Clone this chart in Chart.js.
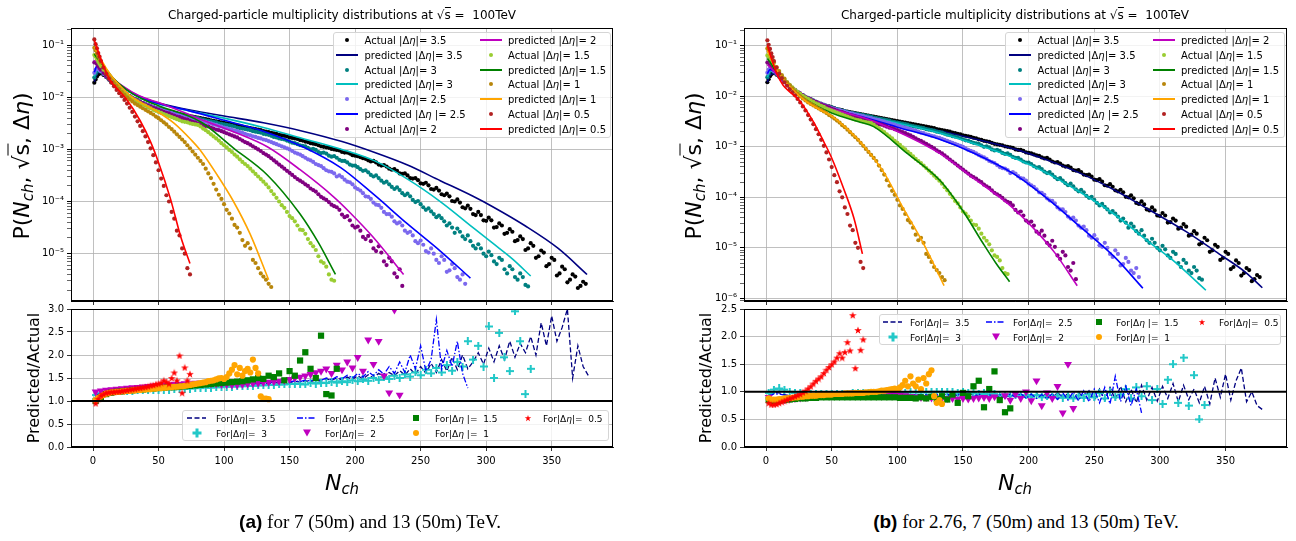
<!DOCTYPE html>
<html>
<head>
<meta charset="utf-8">
<title>Charged-particle multiplicity distributions</title>
<script src="https://cdn.jsdelivr.net/npm/chart.js@4.4.1/dist/chart.umd.min.js"></script>
<style>
  html, body { margin: 0; padding: 0; background: #fff; }
  body { width: 1296px; height: 541px; position: relative; overflow: hidden; font-family: "DejaVu Sans", sans-serif; color: #000; }
  canvas { position: absolute; }
  .txt { position: absolute; white-space: pre; transform: translate(-50%, -50%); }
  .rot { transform: translate(-50%, -50%) rotate(-90deg); }
  .title { font-size: 12px; }
  .ylab { font-size: 22px; }
  .ylab2 { font-size: 16px; }
  .xlab { font-size: 22px; }
  sub { font-size: 0.68em; vertical-align: -0.3em; line-height: 0; }
  .ov { border-top: 1px solid #000; }
  .cap { font-family: "Liberation Serif", serif; font-size: 19px; }
  .cap b { font-family: "Liberation Sans", sans-serif; }
  .legend { position: absolute; background: rgba(255,255,255,0.8); border: 1px solid #d5d5d5; border-radius: 3px; box-sizing: border-box; }
  .item { position: absolute; white-space: pre; transform: translateY(-50%); line-height: 1; }
  .hnd { position: absolute; transform: translate(-50%, -50%); }
</style>
</head>
<body>
<canvas id="topA" width="648" height="310" style="left:0;top:0"></canvas>
<canvas id="botA" width="648" height="170" style="left:0;top:300px"></canvas>
<canvas id="topB" width="648" height="310" style="left:648px;top:0"></canvas>
<canvas id="botB" width="648" height="170" style="left:648px;top:300px"></canvas>

<div class="txt title" style="left:342px;top:15px">Charged-particle multiplicity distributions at √<span class="ov">s</span> =  100TeV</div>
<div class="txt title" style="left:1015px;top:15px">Charged-particle multiplicity distributions at √<span class="ov">s</span> =  100TeV</div>
<div class="txt rot ylab" style="left:21px;top:166px">P(<i>N</i><sub><i>ch</i></sub>, √<span class="ov">s</span>, Δ<i>η</i>)</div>
<div class="txt rot ylab" style="left:693px;top:166px">P(<i>N</i><sub><i>ch</i></sub>, √<span class="ov">s</span>, Δ<i>η</i>)</div>
<div class="txt rot ylab2" style="left:33px;top:378px">Predicted/Actual</div>
<div class="txt rot ylab2" style="left:705px;top:378px">Predicted/Actual</div>
<div class="txt xlab" style="left:342px;top:482px"><i>N</i><sub><i>ch</i></sub></div>
<div class="txt xlab" style="left:1015px;top:482px"><i>N</i><sub><i>ch</i></sub></div>
<div class="txt cap" style="left:370px;top:522px"><b>(a)</b> for 7 (50m) and 13 (50m) TeV.</div>
<div class="txt cap" style="left:1026px;top:522px"><b>(b)</b> for 2.76, 7 (50m) and 13 (50m) TeV.</div>

<script>
// |Δη| windows, in the order they are plotted
const etaLabels = ['3.5', '3', '2.5', '2', '1.5', '1', '0.5'];
const xTicks = [0, 50, 100, 150, 200, 250, 300, 350];
const decades = [1e-7, 1e-6, 1e-5, 1e-4, 1e-3, 1e-2, 1e-1];
const ratioTicksA = [0, 0.5, 1, 1.5, 2, 2.5, 3];
const ratioTicksB = [0, 0.5, 1, 1.5, 2, 2.5];

// N_ch grid of the measured points
const nTop = [1,2,3,4,5,6,
  8,10,12,14,16,18,20,22,24,26,28,30,32,34,36,38,40,42,44,46,48,50,52,54,56,58,60,62,64,66,68,70,72,74,76,78,80,
  82,84,86,88,90,92,94,96,98,100,102,104,106,108,110,112,114,116,118,120,122,124,126,128,130,132,134,136,138,140,142,144,146,148,150,
  152,154,156,158,160,162,164,166,168,170,172,174,176,178,180,182,184,186,188,190,192,194,196,198,200,202,204,206,208,210,212,214,216,218,220,
  222,224,226,228,230,232,234,236,238,240,242,244,246,248,250,252,254,256,258,260,262,264,266,268,270,272,274,276,278,280,282,284,286,288,290,
  292,294,296,298,300,302,304,306,308,310,312,314,316,318,320,322,324,326,328,330,332,334,336,338,340,342,344,346,348,350,352,354,356,358,360,
  362,364,366,368,370,372,374,376];

const actual35 = [-1.72,-1.66,-1.6,-1.56,-1.54,-1.54,
  -1.57,-1.61,-1.66,-1.71,-1.75,-1.8,-1.84,-1.88,-1.92,-1.95,-1.98,-2.01,-2.04,-2.06,-2.09,-2.11,-2.13,-2.15,-2.17,-2.19,-2.2,-2.22,-2.23,-2.25,-2.26,-2.27,-2.29,-2.3,-2.31,-2.32,-2.33,-2.34,-2.35,-2.36,-2.37,-2.38,-2.39,
  -2.4,-2.41,-2.42,-2.43,-2.44,-2.45,-2.46,-2.47,-2.48,-2.49,-2.5,-2.51,-2.52,-2.53,-2.54,-2.55,-2.56,-2.57,-2.58,-2.59,-2.6,-2.61,-2.62,-2.63,-2.65,-2.66,-2.67,-2.68,-2.69,-2.7,-2.72,-2.73,-2.74,-2.75,-2.77,
  -2.78,-2.79,-2.8,-2.82,-2.83,-2.85,-2.86,-2.88,-2.89,-2.9,-2.92,-2.94,-2.95,-2.96,-2.97,-2.99,-3.0,-3.01,-3.02,-3.05,-3.06,-3.06,-3.08,-3.11,-3.12,-3.13,-3.15,-3.17,-3.18,-3.21,-3.23,-3.22,-3.25,-3.29,-3.31,
  -3.3,-3.33,-3.37,-3.39,-3.38,-3.41,-3.46,-3.47,-3.46,-3.5,-3.55,-3.56,-3.55,-3.59,-3.65,-3.66,-3.64,-3.69,-3.76,-3.77,-3.74,-3.79,-3.86,-3.88,-3.85,-3.9,-3.99,-4.0,-3.96,-4.02,-4.11,-4.13,-4.08,-4.14,-4.24,
  -4.26,-4.2,-4.26,-4.36,-4.37,-4.31,-4.36,-4.5,-4.49,-4.42,-4.46,-4.62,-4.6,-4.53,-4.58,-4.76,-4.74,-4.67,-4.72,-4.93,-4.9,-4.8,-4.85,-5.08,-5.05,-4.94,-4.98,-5.24,-5.2,-5.08,-5.12,-5.42,-5.38,-5.25,-5.3,
  -5.55,-5.5,-5.4,-5.44,-5.66,-5.62,-5.54,-5.58];
const actual3 = [-1.62,-1.55,-1.5,-1.48,-1.49,-1.51,
  -1.55,-1.6,-1.65,-1.7,-1.75,-1.79,-1.84,-1.88,-1.91,-1.95,-1.98,-2.01,-2.03,-2.06,-2.08,-2.11,-2.13,-2.15,-2.17,-2.19,-2.21,-2.22,-2.24,-2.25,-2.27,-2.28,-2.29,-2.31,-2.32,-2.33,-2.34,-2.35,-2.36,-2.37,-2.38,-2.39,-2.4,
  -2.42,-2.43,-2.44,-2.45,-2.46,-2.47,-2.48,-2.5,-2.51,-2.52,-2.53,-2.54,-2.55,-2.56,-2.58,-2.59,-2.6,-2.61,-2.62,-2.63,-2.65,-2.66,-2.67,-2.68,-2.7,-2.71,-2.72,-2.74,-2.76,-2.77,-2.79,-2.8,-2.81,-2.83,-2.85,
  -2.87,-2.88,-2.9,-2.92,-2.93,-2.94,-2.97,-3.0,-2.99,-3.01,-3.05,-3.07,-3.06,-3.08,-3.12,-3.14,-3.13,-3.16,-3.2,-3.22,-3.22,-3.25,-3.29,-3.31,-3.31,-3.34,-3.38,-3.41,-3.4,-3.44,-3.49,-3.52,-3.5,-3.55,-3.6,
  -3.64,-3.62,-3.67,-3.72,-3.76,-3.73,-3.78,-3.84,-3.88,-3.85,-3.9,-3.97,-4.01,-3.99,-4.05,-4.11,-4.16,-4.13,-4.19,-4.24,-4.3,-4.27,-4.32,-4.38,-4.46,-4.42,-4.5,-4.6,-4.52,-4.58,-4.67,-4.72,-4.65,-4.76,-4.85,
  -4.9,-4.82,-4.9,-5.0,-5.05,-4.96,-5.03,-5.15,-5.2,-5.08,-5.12,-5.3,-5.38,-5.24,-5.3,-5.45,-5.5,-5.38,-5.45,-5.6,-5.63];
const actual25 = [-1.53,-1.47,-1.44,-1.45,-1.48,-1.5,
  -1.55,-1.6,-1.65,-1.7,-1.75,-1.8,-1.84,-1.88,-1.92,-1.95,-1.98,-2.01,-2.04,-2.06,-2.09,-2.11,-2.13,-2.15,-2.17,-2.19,-2.21,-2.23,-2.24,-2.26,-2.27,-2.29,-2.3,-2.32,-2.33,-2.34,-2.36,-2.37,-2.38,-2.39,-2.41,-2.42,-2.43,
  -2.45,-2.46,-2.47,-2.49,-2.5,-2.52,-2.53,-2.55,-2.56,-2.58,-2.59,-2.61,-2.62,-2.64,-2.65,-2.67,-2.68,-2.7,-2.72,-2.73,-2.75,-2.76,-2.78,-2.79,-2.81,-2.82,-2.84,-2.86,-2.88,-2.9,-2.92,-2.94,-2.96,-2.98,-3.0,
  -3.03,-3.06,-3.08,-3.1,-3.13,-3.16,-3.19,-3.21,-3.24,-3.28,-3.3,-3.32,-3.36,-3.4,-3.42,-3.43,-3.46,-3.52,-3.5,-3.53,-3.58,-3.62,-3.63,-3.67,-3.73,-3.76,-3.79,-3.84,-3.9,-3.91,-3.95,-4.02,-4.06,-4.07,-4.12,
  -4.2,-4.24,-4.24,-4.29,-4.38,-4.42,-4.4,-4.46,-4.56,-4.6,-4.58,-4.65,-4.76,-4.8,-4.75,-4.83,-4.95,-4.98,-4.9,-5.0,-5.12,-5.18,-5.05,-5.12,-5.35,-5.32,-5.2,-5.28,-5.45,-5.5,-5.4,-5.58];
const actual2 = [-1.33,-1.33,-1.36,-1.4,-1.44,-1.47,
  -1.53,-1.59,-1.64,-1.69,-1.74,-1.79,-1.83,-1.87,-1.91,-1.94,-1.98,-2.01,-2.04,-2.06,-2.09,-2.11,-2.14,-2.16,-2.18,-2.2,-2.22,-2.24,-2.26,-2.28,-2.3,-2.31,-2.33,-2.35,-2.37,-2.38,-2.4,-2.42,-2.43,-2.45,-2.47,-2.48,-2.5,
  -2.51,-2.53,-2.55,-2.56,-2.58,-2.6,-2.62,-2.63,-2.65,-2.67,-2.69,-2.71,-2.73,-2.75,-2.77,-2.8,-2.83,-2.86,-2.88,-2.91,-2.94,-2.97,-3.0,-3.03,-3.07,-3.1,-3.13,-3.17,-3.21,-3.25,-3.29,-3.33,-3.37,-3.41,-3.45,
  -3.49,-3.53,-3.57,-3.6,-3.63,-3.67,-3.7,-3.75,-3.78,-3.81,-3.86,-3.91,-3.94,-3.97,-4.01,-4.06,-4.09,-4.11,-4.16,-4.25,-4.3,-4.28,-4.36,-4.46,-4.5,-4.48,-4.56,-4.68,-4.72,-4.66,-4.76,-4.9,-4.95,-4.86,-4.98,
  -5.15,-5.22,-5.08,-5.15,-5.38,-5.45,-5.3,-5.62];
const actual15 = [-1.19,-1.22,-1.27,-1.32,-1.36,-1.4,
  -1.47,-1.53,-1.6,-1.66,-1.72,-1.77,-1.82,-1.87,-1.91,-1.95,-1.99,-2.02,-2.05,-2.08,-2.11,-2.14,-2.16,-2.19,-2.21,-2.24,-2.26,-2.28,-2.3,-2.32,-2.34,-2.36,-2.38,-2.4,-2.42,-2.44,-2.46,-2.47,-2.48,-2.5,-2.51,-2.52,-2.53,
  -2.56,-2.6,-2.63,-2.67,-2.71,-2.75,-2.79,-2.83,-2.88,-2.92,-2.96,-3.01,-3.05,-3.1,-3.14,-3.19,-3.24,-3.28,-3.32,-3.37,-3.42,-3.47,-3.52,-3.57,-3.62,-3.67,-3.73,-3.8,-3.86,-3.93,-4.0,-4.07,-4.12,-4.2,-4.28,
  -4.32,-4.38,-4.46,-4.54,-4.55,-4.62,-4.72,-4.8,-4.86,-4.93,-5.05,-5.15,-5.18,-5.25,-5.4,-5.5,-5.52];
const actual1 = [-1.05,-1.1,-1.16,-1.22,-1.28,-1.33,
  -1.42,-1.5,-1.58,-1.65,-1.72,-1.78,-1.84,-1.9,-1.95,-2.0,-2.04,-2.08,-2.12,-2.15,-2.18,-2.21,-2.24,-2.27,-2.3,-2.33,-2.37,-2.4,-2.44,-2.48,-2.52,-2.57,-2.61,-2.66,-2.71,-2.76,-2.81,-2.86,-2.92,-2.98,-3.04,-3.1,-3.16,
  -3.22,-3.28,-3.37,-3.46,-3.55,-3.66,-3.77,-3.87,-3.95,-4.05,-4.16,-4.23,-4.33,-4.45,-4.5,-4.6,-4.74,-4.85,-4.8,-4.9,-5.12,-5.18,-5.28,-5.38,-5.44,-5.5,-5.58,-5.64];
const actual05 = [-0.89,-0.98,-1.06,-1.15,-1.22,-1.3,
  -1.43,-1.55,-1.64,-1.72,-1.79,-1.86,-1.92,-1.98,-2.05,-2.12,-2.2,-2.28,-2.37,-2.46,-2.55,-2.65,-2.75,-2.86,-2.98,-3.11,-3.25,-3.4,-3.56,-3.7,-3.88,-4.0,-4.2,-4.33,-4.56,-4.65,-4.9,-5.0,-5.28,-5.4];

// predicted curves [Nch, log10 P], fit (a)
const predA35 = [[1,-1.7],[3,-1.56],[6,-1.5],[10,-1.53],[15,-1.65],[20,-1.75],[30,-1.91],[40,-2.03],[50,-2.11],[75,-2.25],[100,-2.36],[130,-2.49],[160,-2.65],[190,-2.85],[215,-3.06],[240,-3.3],[265,-3.6],[290,-3.9],[305,-4.1],[330,-4.47],[355,-4.9],[377,-5.4]];
const predA3 = [[1,-1.6],[3,-1.48],[6,-1.47],[10,-1.53],[15,-1.65],[20,-1.76],[30,-1.93],[40,-2.05],[50,-2.13],[75,-2.27],[100,-2.4],[130,-2.58],[160,-2.79],[190,-3.0],[215,-3.22],[240,-3.57],[265,-4.0],[290,-4.5],[305,-4.8],[320,-5.1],[334,-5.43]];
const predA25 = [[1,-1.52],[3,-1.4],[6,-1.42],[10,-1.52],[15,-1.64],[20,-1.75],[30,-1.92],[40,-2.04],[50,-2.12],[75,-2.27],[100,-2.44],[130,-2.65],[160,-2.95],[189,-3.35],[214,-3.86],[240,-4.43],[265,-4.95],[288,-5.47]];
const predA2 = [[1,-1.3],[3,-1.3],[6,-1.37],[10,-1.5],[15,-1.64],[20,-1.74],[30,-1.9],[40,-2.02],[50,-2.1],[82,-2.42],[107,-2.66],[133,-2.95],[158,-3.39],[184,-3.92],[196,-4.21],[214,-4.69],[237,-5.4]];
const predA15 = [[1,-1.17],[3,-1.24],[6,-1.33],[10,-1.46],[15,-1.62],[20,-1.74],[30,-1.93],[40,-2.06],[50,-2.16],[82,-2.47],[107,-2.97],[133,-3.49],[158,-4.24],[172,-4.79],[185,-5.4]];
const predA1 = [[1,-1.04],[3,-1.13],[6,-1.27],[10,-1.44],[15,-1.62],[20,-1.76],[30,-2.0],[40,-2.15],[50,-2.29],[62,-2.5],[75,-2.82],[82,-3.02],[95,-3.5],[107,-3.99],[120,-4.63],[134,-5.5]];
const predA05 = [[1,-0.91],[2,-0.97],[5,-1.2],[8,-1.4],[13,-1.67],[19,-1.85],[25,-2.02],[36,-2.45],[44,-2.86],[50,-3.25],[59,-3.94],[67,-4.68],[74,-5.19]];

// predicted curves [Nch, log10 P], fit (b)
const predB35 = [[1,-1.72],[3,-1.58],[6,-1.55],[10,-1.61],[15,-1.74],[20,-1.85],[30,-2.03],[40,-2.15],[50,-2.24],[75,-2.39],[100,-2.52],[130,-2.67],[160,-2.85],[190,-3.05],[215,-3.27],[240,-3.53],[265,-3.85],[290,-4.22],[320,-4.68],[345,-5.12],[365,-5.48],[378,-5.79]];
const predB3 = [[1,-1.62],[3,-1.5],[6,-1.48],[10,-1.57],[15,-1.73],[20,-1.85],[30,-2.03],[40,-2.15],[50,-2.24],[75,-2.39],[100,-2.53],[130,-2.71],[160,-2.95],[189,-3.22],[214,-3.52],[240,-3.91],[265,-4.33],[290,-4.85],[310,-5.25],[335,-5.84]];
const predB25 = [[1,-1.55],[3,-1.47],[6,-1.5],[10,-1.6],[15,-1.75],[20,-1.86],[30,-2.04],[40,-2.16],[50,-2.25],[75,-2.42],[100,-2.61],[130,-2.83],[158,-3.12],[189,-3.54],[214,-4.02],[240,-4.6],[265,-5.17],[287,-5.8]];
const predB2 = [[1,-1.38],[3,-1.42],[6,-1.5],[10,-1.62],[15,-1.76],[20,-1.87],[30,-2.04],[40,-2.16],[50,-2.25],[75,-2.43],[107,-2.78],[133,-3.14],[158,-3.62],[184,-4.12],[204,-4.62],[220,-5.1],[237,-5.75]];
const predB15 = [[1,-1.25],[3,-1.32],[6,-1.44],[10,-1.57],[15,-1.73],[20,-1.86],[30,-2.06],[50,-2.33],[70,-2.5],[82,-2.6],[107,-3.12],[133,-3.68],[150,-4.27],[165,-4.9],[175,-5.3],[185.5,-5.67]];
const predB1 = [[1,-1.1],[3,-1.21],[6,-1.38],[10,-1.55],[15,-1.72],[20,-1.86],[30,-2.09],[40,-2.25],[50,-2.39],[62,-2.65],[75,-3.0],[90,-3.52],[105,-4.24],[120,-4.92],[135.6,-5.75]];
const predB05 = [[1,-0.99],[3,-1.16],[5,-1.32],[8,-1.54],[13,-1.78],[19,-1.93],[25,-2.07],[36,-2.5],[44,-2.9],[50,-3.22],[59,-3.82],[67,-4.42],[73.4,-5.12]];

// Predicted/Actual ratios: coarse grid for the long series, fine grid for |Δη| = 1 and 0.5
const nRatio = [2,6,10,14,18,22,26,30,34,38,42,46,50,54,58,62,66,70,74,78,82,86,90,94,98,102,106,110,114,118,122,126,130,134,138,142,146,150,154,158,
  162,166,170,174,178,182,186,190,194,198,202,206,210,214,218,222,226,230,234,238,242,246,250,254,258,262,266,270,274,278,282,286,290,294,298,302,306,310,314,318,
  322,326,330,334,338,342,346,350,354,358,362,366,370,374,378];
const nRatioFine = [2,4,6,8,10,12,14,16,18,20,22,24,26,28,30,32,34,36,38,40,42,44,46,48,50,52,54,56,58,60,62,64,66,68,70,72,74,
  76,78,80,82,84,86,88,90,92,94,96,98,100,102,104,106,108,110,112,114,116,118,120,122,124,126,128,130,132,134];

const ratioA35 = [1.08,1.16,1.2,1.22,1.23,1.24,1.25,1.26,1.27,1.27, 1.28,1.28,1.29,1.29,1.3,1.3,1.31,1.31,1.32,1.32,
  1.33,1.33,1.34,1.34,1.35,1.35,1.36,1.36,1.37,1.37, 1.38,1.37,1.39,1.38,1.4,1.39,1.41,1.4,1.43,1.41,
  1.44,1.42,1.46,1.43,1.48,1.45,1.5,1.46,1.52,1.47, 1.55,1.48,1.57,1.5,1.6,1.52,1.62,1.55,1.66,1.56,
  1.7,1.58,1.75,1.6,1.82,1.62,1.9,1.65,1.95,1.68, 2.0,1.7,1.85,2.05,1.8,2.15,1.85,2.2,1.9,2.3,
  1.95,2.25,2.05,2.4,2.0,2.7,2.2,2.85,2.3,2.6, 3.0,1.5,2.2,1.75,1.55];
const ratioA3 = [1.13,1.17,1.19,1.2,1.21,1.21,1.22,1.22,1.23,1.23, 1.24,1.24,1.25,1.25,1.25,1.26,1.26,1.27,1.27,1.28,
  1.28,1.29,1.29,1.3,1.3,1.31,1.31,1.32,1.32,1.33, 1.33,1.34,1.34,1.35,1.35,1.36,1.36,1.37,1.37,1.38,
  1.36,1.39,1.38,1.4,1.39,1.42,1.4,1.43,1.41,1.45, 1.43,1.47,1.44,1.5,1.46,1.52,1.48,1.55,1.5,1.58,
  1.53,1.62,1.56,1.68,1.6,1.72,1.62,1.78,1.66,1.85, 1.75,2.3,1.9,2.2,1.75,2.62,1.5,2.48,1.95,1.65,
  2.95,2.3,1.15,1.7];
const ratioA25 = [1.1,1.18,1.21,1.23,1.24,1.25,1.26,1.26,1.27,1.28, 1.28,1.29,1.3,1.3,1.31,1.31,1.32,1.32,1.33,1.33,
  1.34,1.34,1.35,1.35,1.36,1.36,1.37,1.37,1.38,1.38, 1.39,1.38,1.4,1.39,1.41,1.4,1.42,1.41,1.44,1.42,
  1.46,1.43,1.48,1.45,1.5,1.46,1.53,1.48,1.56,1.5, 1.6,1.52,1.64,1.55,1.68,1.58,1.75,1.6,1.85,1.62,
  2.0,1.7,2.2,1.65,1.9,2.77,1.7,2.1,1.75,2.3, 1.6,1.28];
const ratioA2 = [1.2,1.22,1.24,1.25,1.26,1.27,1.28,1.29,1.3,1.31, 1.32,1.33,1.34,1.35,1.36,1.37,1.37,1.38,1.38,1.39,
  1.39,1.38,1.37,1.37,1.36,1.36,1.35,1.35,1.36,1.37, 1.38,1.39,1.4,1.41,1.42,1.43,1.45,1.47,1.5,1.52,
  1.55,1.58,1.62,1.65,1.7,1.6,1.78,1.68,1.85,1.72, 1.95,1.65,2.33,1.8,2.3,1.55,1.18,2.98,1.13];
const ratioA15 = [1.0,1.08,1.15,1.18,1.2,1.21,1.22,1.23,1.24,1.25, 1.26,1.27,1.28,1.29,1.3,1.3,1.31,1.32,1.33,1.34,
  1.35,1.36,1.37,1.38,1.39,1.4,1.41,1.42,1.43,1.45, 1.47,1.5,1.48,1.55,1.52,1.6,1.45,1.65,1.55,1.88,
  2.06,1.7,1.5,2.42,1.15,1.12,1.7];
const ratioA1 = [1.02,1.07,1.1,1.13,1.16,1.17,1.19,1.19,1.2,1.2,1.21,1.21,1.22,1.22,1.23,1.23,1.24,1.24,1.25,1.25,
  1.26,1.26,1.27,1.27,1.28,1.28,1.29,1.29,1.3,1.3,1.31,1.31,1.32,1.32,1.33,1.34,1.35,1.36,1.37,1.38,
  1.39,1.4,1.41,1.43,1.44,1.45,1.47,1.49,1.5,1.48,1.52,1.6,1.68,1.78,1.58,1.72,1.55,1.65,1.7,1.62,
  1.9,1.72,1.6,1.1,1.05,1.05,1.04];
const ratioA05 = [0.95,1.05,1.12,1.15,1.18,1.19,1.2,1.2,1.21,1.21,1.22,1.23,1.24,1.25,1.26,1.27,1.28,1.29,1.3,1.31,
  1.32,1.34,1.35,1.37,1.38,1.4,1.45,1.42,1.38,1.5,1.62,1.45,1.99,1.18,1.73,1.45,1.59];

const ratioB35 = [0.95,0.99,0.98,0.95,0.93,0.92,0.91,0.91,0.91,0.91, 0.92,0.92,0.92,0.92,0.93,0.93,0.93,0.93,0.93,0.94,
  0.94,0.94,0.94,0.94,0.94,0.95,0.94,0.95,0.94,0.95, 0.94,0.95,0.94,0.95,0.93,0.96,0.93,0.96,0.92,0.97,
  0.92,0.96,0.91,0.97,0.9,0.96,0.9,0.97,0.9,0.98, 0.89,0.97,0.9,0.98,0.88,0.99,0.89,0.97,0.86,1.0,
  0.87,1.02,0.85,1.05,0.84,1.08,0.86,1.1,0.82,1.05, 0.8,1.12,0.85,1.08,0.83,1.1,0.88,1.15,0.82,1.12,
  0.86,1.05,0.8,1.1,0.78,1.25,0.9,1.32,0.85,1.2, 1.43,0.82,1.0,0.75,0.68];
const ratioB3 = [0.98,1.04,1.06,1.04,1.0,0.98,0.97,0.96,0.96,0.96, 0.96,0.96,0.96,0.96,0.96,0.96,0.97,0.97,0.97,0.97,
  0.97,0.97,0.98,0.98,0.98,0.98,0.98,0.99,0.99,0.99, 0.99,1.0,1.0,1.0,0.99,1.0,0.98,0.99,0.97,0.98,
  0.96,0.97,0.95,0.96,0.94,0.95,0.93,0.95,0.92,0.94, 0.91,0.94,0.9,0.93,0.9,0.93,0.89,0.92,0.88,0.93,
  0.89,0.95,0.9,0.98,0.88,1.0,0.9,0.95,1.05,0.88, 1.08,0.92,1.1,0.85,1.05,0.78,1.22,1.5,0.8,1.62,
  0.75,1.3,0.5,0.76];
const ratioB25 = [0.92,0.96,0.96,0.94,0.93,0.92,0.92,0.92,0.92,0.93, 0.93,0.93,0.93,0.93,0.94,0.94,0.94,0.94,0.94,0.94,
  0.94,0.94,0.95,0.94,0.95,0.94,0.95,0.94,0.95,0.94, 0.95,0.93,0.95,0.93,0.96,0.92,0.96,0.92,0.96,0.91,
  0.96,0.91,0.95,0.9,0.95,0.89,0.96,0.9,0.97,0.88, 0.96,0.88,0.95,0.87,0.97,0.86,0.98,0.85,1.0,0.84,
  1.02,0.82,1.05,0.8,1.08,0.78,1.28,0.82,1.1,0.75, 1.05,0.62];
const ratioB2 = [0.9,0.86,0.85,0.86,0.87,0.88,0.89,0.9,0.91,0.92, 0.93,0.94,0.95,0.96,0.97,0.97,0.98,0.98,0.99,0.99,
  0.99,0.98,0.97,0.96,0.95,0.94,0.93,0.92,0.91,0.9, 0.9,0.89,0.89,0.88,0.88,0.88,0.87,0.88,0.87,0.88,
  0.89,0.9,0.88,0.91,0.87,0.93,0.85,0.96,0.88,1.0, 0.84,1.2,0.75,0.98,0.88,1.1,0.62,1.5,0.7];
const ratioB15 = [0.85,0.83,0.84,0.85,0.86,0.87,0.88,0.88,0.89,0.89, 0.9,0.9,0.9,0.9,0.9,0.9,0.9,0.9,0.9,0.9,
  0.9,0.9,0.9,0.9,0.9,0.89,0.89,0.89,0.88,0.9, 0.88,0.91,0.87,0.92,0.86,0.95,0.8,0.98,0.92,1.1,
  1.2,0.72,1.05,1.37,0.85,0.63,0.7];
const ratioB1 = [0.88,0.86,0.86,0.86,0.87,0.87,0.88,0.88,0.89,0.89,0.9,0.9,0.91,0.91,0.92,0.92,0.93,0.93,0.93,0.94,
  0.94,0.94,0.95,0.95,0.95,0.96,0.96,0.96,0.96,0.97,0.97,0.97,0.97,0.98,0.98,0.98,0.98,0.99,0.99,1.0,
  1.0,1.0,1.01,1.02,1.02,1.03,1.04,1.05,1.06,1.04,1.08,1.12,1.2,1.1,1.28,1.15,1.1,1.22,1.05,1.25,
  1.15,1.32,1.39,0.92,0.8,0.85,0.78];
const ratioB05 = [0.8,0.77,0.77,0.78,0.8,0.82,0.84,0.86,0.88,0.9,0.92,0.94,0.96,0.99,1.02,1.06,1.1,1.15,1.2,1.24,
  1.28,1.34,1.4,1.45,1.5,1.55,1.62,1.7,1.62,1.72,1.9,1.75,2.39,1.43,2.12,1.76,1.95];

const actualSeries = [actual35, actual3, actual25, actual2, actual15, actual1, actual05];
const actualColors = ['#000000', '#008080', '#7b68ee', '#800080', '#9acd32', '#b8860b', '#b22222'];
const predColors = ['#000080', '#00bfbf', '#0000ff', '#bf00bf', '#008000', '#ffa500', '#ff0000'];
const ratioGrids = [nRatio, nRatio, nRatio, nRatio, nRatio, nRatioFine, nRatioFine];

Chart.defaults.font.family = 'DejaVu Sans';
Chart.defaults.color = '#000';

// marker images for the ratio panels
function plusMarker(color, s) {
  const c = document.createElement('canvas');
  c.width = c.height = s;
  const g = c.getContext('2d');
  g.fillStyle = color;
  const t = Math.round(s / 3);
  g.fillRect(0, t, s, s - 2 * t);
  g.fillRect(t, 0, s - 2 * t, s);
  return c;
}
function starMarker(color, s) {
  const c = document.createElement('canvas');
  c.width = c.height = s;
  const g = c.getContext('2d');
  g.fillStyle = color;
  g.beginPath();
  for (let k = 0; k < 10; k++) {
    const r = k % 2 ? s * 0.2 : s * 0.5;
    const a = -Math.PI / 2 + k * Math.PI / 5;
    g.lineTo(s / 2 + r * Math.cos(a), s / 2 + 0.5 + r * Math.sin(a));
  }
  g.closePath();
  g.fill();
  return c;
}

const sup = { '-': '⁻', '0': '⁰', '1': '¹', '2': '²', '3': '³', '4': '⁴', '5': '⁵', '6': '⁶', '7': '⁷', '8': '⁸', '9': '⁹' };

function logTicks(min, max) {
  const out = [];
  decades.forEach(d => {
    for (let k = 1; k <= 9; k++) {
      const v = d * k;
      if (v >= min && v <= max) out.push({ value: v, major: k === 1 });
    }
  });
  return out;
}

// black frame around the plot area, plus the y = 1 reference line
const framePlugin = {
  id: 'frame',
  afterDatasetsDraw(chart, args, opts) {
    const { ctx, chartArea: a } = chart;
    ctx.save();
    if (opts.refLine !== undefined) {
      const y = chart.scales.y.getPixelForValue(opts.refLine);
      ctx.strokeStyle = '#000';
      ctx.lineWidth = 2;
      ctx.beginPath();
      ctx.moveTo(a.left, y);
      ctx.lineTo(a.right, y);
      ctx.stroke();
    }
    ctx.strokeStyle = '#000';
    ctx.lineWidth = 1;
    ctx.strokeRect(a.left + 0.5, a.top + 0.5, a.width - 1, a.height - 1);
    ctx.restore();
  }
};

function xScale(showLabels, h) {
  return {
    type: 'linear', min: -16.8, max: 396.8,
    afterBuildTicks: s => { s.ticks = xTicks.map(v => ({ value: v })); },
    ticks: { display: showLabels, font: { size: 10 }, padding: 4, maxRotation: 0 },
    grid: { color: '#b0b0b0', lineWidth: 0.8, tickColor: '#000', tickLength: 4 },
    border: { color: '#000' },
    afterFit: s => { s.height = h; }
  };
}

function buildTop(id, preds, yMin, yMax, yW, padR) {
  const datasets = [];
  actualSeries.forEach((logs, i) => {
    datasets.push({
      data: logs.map((v, j) => ({ x: nTop[j], y: Math.pow(10, v) })),
      backgroundColor: actualColors[i], pointRadius: 2.1, pointBorderWidth: 0,
      order: 100 - 2 * i
    });
    datasets.push({
      data: preds[i].map(p => ({ x: p[0], y: Math.pow(10, p[1]) })),
      showLine: true, borderColor: predColors[i], borderWidth: 1.6, pointRadius: 0,
      cubicInterpolationMode: 'monotone', fill: false,
      order: 99 - 2 * i
    });
  });
  return new Chart(document.getElementById(id), {
    type: 'scatter',
    data: { datasets },
    options: {
      responsive: false, animation: false, devicePixelRatio: 1, events: [],
      layout: { padding: { left: 0, right: padR, top: 28, bottom: 2 } },
      plugins: { legend: { display: false }, tooltip: { enabled: false }, frame: {} },
      scales: {
        x: xScale(false, 5),
        y: {
          type: 'logarithmic', min: yMin, max: yMax,
          afterBuildTicks: s => { s.ticks = logTicks(yMin, yMax); },
          ticks: {
            autoSkip: false, font: { size: 10 }, padding: 3,
            callback: (v, i, ticks) => ticks[i].major ? '10' + String(Math.round(Math.log10(v))).split('').map(c => sup[c]).join('') : ''
          },
          grid: {
            color: c => (c.tick && c.tick.major) ? '#b0b0b0' : 'rgba(0,0,0,0)',
            lineWidth: 0.8, tickColor: '#000', tickLength: 4,
            tickWidth: c => (c.tick && c.tick.major) ? 1 : 0.6
          },
          border: { color: '#000' },
          afterFit: s => { s.width = yW; }
        }
      }
    },
    plugins: [framePlugin]
  });
}

const plusImg = plusMarker('#22c8c8', 8);
const starImg = starMarker('#ff0000', 8);
const ratioStyles = [
  { showLine: true, borderColor: '#000080', borderWidth: 1.3, borderDash: [5, 2.5], pointRadius: 0 },
  { pointStyle: plusImg, pointRadius: 4 },
  { showLine: true, borderColor: '#0000ff', borderWidth: 1.3, borderDash: [6, 2, 1.5, 2], pointRadius: 0 },
  { pointStyle: 'triangle', pointRotation: 180, pointRadius: 4.6, backgroundColor: '#bf00bf', pointBorderWidth: 0 },
  { pointStyle: 'rect', pointRadius: 4.4, backgroundColor: '#008000', pointBorderWidth: 0 },
  { pointStyle: 'circle', pointRadius: 3.1, backgroundColor: '#ffa500', pointBorderWidth: 0 },
  { pointStyle: starImg, pointRadius: 4 }
];

function buildRatio(id, series, yTicks, yW, padR) {
  const datasets = series.map((vals, i) => Object.assign({
    data: vals.map((v, j) => ({ x: ratioGrids[i][j], y: v })),
    order: 100 - i
  }, ratioStyles[i]));
  return new Chart(document.getElementById(id), {
    type: 'scatter',
    data: { datasets },
    options: {
      responsive: false, animation: false, devicePixelRatio: 1, events: [],
      layout: { padding: { left: 0, right: padR, top: 9, bottom: 0 } },
      plugins: { legend: { display: false }, tooltip: { enabled: false }, frame: { refLine: 1 } },
      scales: {
        x: xScale(true, 23),
        y: {
          min: yTicks[0], max: yTicks[yTicks.length - 1],
          afterBuildTicks: s => { s.ticks = yTicks.map(v => ({ value: v })); },
          ticks: { font: { size: 10 }, padding: 3, callback: v => v.toFixed(1) },
          grid: { color: '#b0b0b0', lineWidth: 0.8, tickColor: '#000', tickLength: 4 },
          border: { color: '#000' },
          afterFit: s => { s.width = yW; }
        }
      }
    },
    plugins: [framePlugin]
  });
}

buildTop('topA', [predA35, predA3, predA25, predA2, predA15, predA1, predA05], 1.233e-6, 0.2138, 71, 35);
buildTop('topB', [predB35, predB3, predB25, predB2, predB15, predB1, predB05], 8.85e-7, 0.226, 96, 9);
buildRatio('botA', [ratioA35, ratioA3, ratioA25, ratioA2, ratioA15, ratioA1, ratioA05], ratioTicksA, 71, 35);
buildRatio('botB', [ratioB35, ratioB3, ratioB25, ratioB2, ratioB15, ratioB1, ratioB05], ratioTicksB, 96, 9);

// ---- legends (HTML, laid out column by column like the original) ----
function handleSvg(kind, color) {
  const w = 22, h = 10;
  let body = '';
  if (kind === 'dot') body = `<circle cx="11" cy="5" r="2" fill="${color}"/>`;
  if (kind === 'line') body = `<line x1="0" y1="5" x2="22" y2="5" stroke="${color}" stroke-width="2"/>`;
  if (kind === 'dash') body = `<line x1="1" y1="5" x2="20" y2="5" stroke="${color}" stroke-width="1.5" stroke-dasharray="5,2.5"/>`;
  if (kind === 'dashdot') body = `<line x1="1" y1="5" x2="20" y2="5" stroke="${color}" stroke-width="1.5" stroke-dasharray="6,2,1.5,2"/>`;
  if (kind === 'plus') body = `<path d="M8 2h3v3h3v3h-3v3h-3v-3h-3v-3h3z" fill="${color}" transform="translate(1.5,-1.5)"/>`;
  if (kind === 'tri') body = `<polygon points="7,1.5 15,1.5 11,8.5" fill="${color}"/>`;
  if (kind === 'square') body = `<rect x="8" y="2" width="6" height="6" fill="${color}"/>`;
  if (kind === 'circle') body = `<circle cx="11" cy="5" r="3" fill="${color}"/>`;
  if (kind === 'star') {
    const p = [];
    for (let k = 0; k < 10; k++) {
      const r = k % 2 ? 1.3 : 3.4, a = -Math.PI / 2 + k * Math.PI / 5;
      p.push((11 + r * Math.cos(a)).toFixed(2) + ',' + (5.4 + r * Math.sin(a)).toFixed(2));
    }
    body = `<polygon points="${p.join(' ')}" fill="${color}"/>`;
  }
  return `<svg width="${w}" height="${h}" viewBox="0 0 ${w} ${h}">${body}</svg>`;
}

function makeLegend(box, items, rows, colHandle, colText, rowY, fontSize) {
  const div = document.createElement('div');
  div.className = 'legend';
  Object.assign(div.style, { left: box[0] + 'px', top: box[1] + 'px', width: box[2] + 'px', height: box[3] + 'px', fontSize: fontSize + 'px' });
  items.forEach((it, k) => {
    const col = Math.floor(k / rows), row = k % rows;
    const h = document.createElement('div');
    h.className = 'hnd';
    h.style.left = colHandle[col] + 'px';
    h.style.top = rowY[row] + 'px';
    h.innerHTML = handleSvg(it.kind, it.color);
    div.appendChild(h);
    const t = document.createElement('div');
    t.className = 'item';
    t.style.left = colText[col] + 'px';
    t.style.top = rowY[row] + 'px';
    t.innerHTML = it.text;
    div.appendChild(t);
  });
  document.body.appendChild(div);
}

const eta = 'Δ<i>η</i>';
const topItems = [];
etaLabels.forEach((e, i) => {
  topItems.push({ kind: 'dot', color: actualColors[i], text: `Actual |${eta}|= ${e}` });
  topItems.push({ kind: 'line', color: predColors[i], text: e === '2.5' ? `predicted |${eta} |= ${e}` : `predicted |${eta}|= ${e}` });
});
const topRows = [8, 22.8, 37.6, 52.4, 67.2, 82, 96.8];
makeLegend([333, 32, 278, 106], topItems, 7, [13, 157], [30.5, 174], topRows, 10);
makeLegend([1005, 32, 280, 106], topItems, 7, [14, 158], [31.5, 175], topRows, 10);

const ratioKinds = ['dash', 'plus', 'dashdot', 'tri', 'square', 'circle', 'star'];
const ratioColors = ['#000080', '#22c8c8', '#0000ff', '#bf00bf', '#008000', '#ffa500', '#ff0000'];
const botItems = etaLabels.map((e, i) => ({
  kind: ratioKinds[i], color: ratioColors[i],
  text: (e === '1.5' || e === '1') ? `For|${eta} |=  ${e}` : `For|${eta}|=  ${e}`
}));
makeLegend([182, 410, 427, 31], botItems, 2, [14, 124, 233, 345], [33, 142, 252, 360], [7.5, 22.5], 9);
makeLegend([879, 314, 402, 31], botItems, 2, [13, 116, 219, 322], [30, 133, 236, 339], [8, 22.5], 9);
</script>
</body>
</html>
